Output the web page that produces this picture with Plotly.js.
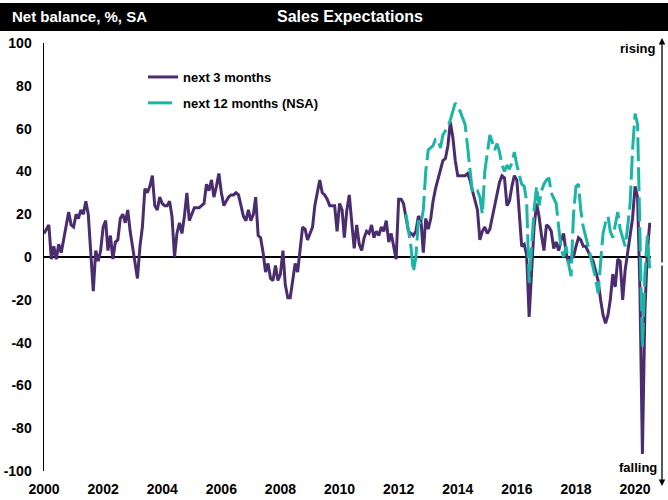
<!DOCTYPE html>
<html>
<head>
<meta charset="utf-8">
<script src="https://cdn.plot.ly/plotly-3.0.1.min.js"></script>
<style>html,body{margin:0;padding:0;background:#fff;}#chart{width:668px;height:500px;}</style>
</head>
<body>
<div id="chart"></div>
<script>
// Monthly data, first point = January 2000
const startYear = 2000;
const next3Months = [
  11, 13, 15, -1, 5, -1, 6, 2, 8, 14, 21, 15,        // 2000
  14, 20, 18, 22, 20, 26, 20, 2, -16, 3, -2, 3,      // 2001
  14, 17, 3, 10, -1, 7, 8, 18, 20, 16, 22, 12,       // 2002
  5, -2, -10, 5, 14, 32, 30, 33, 38, 24, 22, 28,     // 2003
  25, 24, 24, 26, 19, 0, 11, 16, 11, 19, 30, 17,     // 2004
  20, 23, 23, 23, 24, 25, 34, 31, 36, 28, 33, 39,    // 2005
  30, 24, 26, 28, 29, 29, 30, 29, 24, 19, 17, 22,    // 2006
  17, 20, 28, 10, 9, 2, -7, -3, -10, -11, -4, -11,   // 2007
  -8, 3, -13, -19, -19, -11, -3, -7, 4, 14, 13, 8,   // 2008
  11, 14, 24, 30, 36, 30, 29, 27, 24, 24, 24, 12,    // 2009
  25, 22, 9, 22, 29, 16, 4, 15, 6, 3, 9, 12,         // 2010
  11, 15, 9, 12, 10, 14, 12, 17, 7, 11, 5, -1,       // 2011
  27, 27, 25, 18, 12, 11, 10, 12, 19, 18, 2, 18,     // 2012
  13, 18, 26, 32, 36, 40, 45, 46, 52, 63, 56, 45,    // 2013
  38, 38, 38, 38, 39, 36, 31, 26, 22, 8, 12, 14,     // 2014
  11, 13, 18, 23, 28, 35, 38, 37, 24, 26, 33, 38,    // 2015
  36, 22, 5, 6, 1, -28, -5, 14, 25, 19, 10, 3,       // 2016
  15, 14, 12, 4, 7, 3, 8, 11, 2, -3, 0, 0,           // 2017
  5, 9, 8, 5, 5, 2, 0, -2, -6, -11, -20, -27,        // 2018
  -31, -27, -20, -8, -14, -1, -2, -20, -6, 2, 8, 18, // 2019
  33, 28, -15, -92, -26, 3, 16                       // 2020
];
// 12-month series starts April 2012 (month index 147)
const next12StartIndex = 147;
const next12Months = [
  20, 12, 5, -7, 0, 17, 15, 22, 40,                  // 2012 Apr-Dec
  50, 51, 52, 55, 55, 51, 57, 59, 61, 64, 68, 72,    // 2013
  70, 68, 65, 62, 52, 40, 30, 31, 31, 28, 20, 40,    // 2014
  50, 57, 54, 50, 53, 49, 43, 40, 43, 41, 44, 49,    // 2015
  43, 38, 34, 33, 26, -12, 5, 22, 33, 24, 31, 34,    // 2016
  36, 37, 30, 27, 25, 14, 4, 0, 5, -3, -9, 20,       // 2017
  33, 34, 22, 14, 10, 5, 0, -5, -10, -17, -3, 11,    // 2018
  16, 19, 12, 9, 15, 21, 13, 9, 5, 14, 25, 50,       // 2019
  67, 62, 5, -42, -8, 10, -6                         // 2020
];
const tickYears = [2000, 2002, 2004, 2006, 2008, 2010, 2012, 2014, 2016, 2018, 2020];
const yTicks = [-100, -80, -60, -40, -20, 0, 20, 40, 60, 80, 100];

function monthDate(i) {
  const y = startYear + Math.floor(i / 12);
  const m = (i % 12) + 1;
  return y + '-' + (m < 10 ? '0' + m : m) + '-01';
}
const x3 = next3Months.map((_, i) => monthDate(i));
const x12 = next12Months.map((_, i) => monthDate(next12StartIndex + i));

const FONT = 'Liberation Sans Narrow, Arial Narrow, Liberation Sans, Arial, sans-serif';

const traces = [
  {
    x: x3, y: next3Months, type: 'scatter', mode: 'lines', name: 'next 3 months',
    legendgroup: 'a',
    line: {color: '#4b2d6f', width: 3}
  },
  {
    x: x12, y: next12Months, type: 'scatter', mode: 'lines', name: 'next 12 months (NSA)',
    legendgroup: 'b',
    line: {color: '#1bb5a8', width: 3, dash: '24px,6px'}
  }
];

// plot area in pixels: left 44, right 651, top 43, bottom 471
const L = 44, R = 651, T = 43, B = 471;
const px = v => (v - L) / (R - L);
const py = v => (B - v) / (B - T);

const layout = {
  width: 668, height: 500,
  margin: {l: L, r: 668 - R, t: T, b: 500 - B, pad: 0},
  paper_bgcolor: '#ffffff', plot_bgcolor: '#ffffff',
  font: {family: FONT, size: 14, color: '#000'},
  showlegend: true,
  legend: {
    x: px(143), y: py(62), xanchor: 'left', yanchor: 'top',
    bgcolor: 'rgba(0,0,0,0)', tracegroupgap: 6, traceorder: 'grouped',
    font: {family: FONT, size: 13, color: '#000', weight: 'bold'}
  },
  xaxis: {
    type: 'date', range: ['2000-01-01', '2020-07-16'],
    tickvals: tickYears.map(y => y + '-01-01'), ticktext: tickYears.map(String),
    showgrid: false, zeroline: false, showline: false, ticks: '',
    ticklabelstandoff: 8,
    tickfont: {family: FONT, size: 14, color: '#000', weight: 'bold'},
    fixedrange: true
  },
  yaxis: {
    range: [-100, 100], tickvals: yTicks, ticktext: yTicks.map(String),
    showgrid: false, zeroline: true, zerolinecolor: '#000', zerolinewidth: 1.5,
    showline: true, linecolor: '#000', linewidth: 1.5, ticks: '',
    ticklabelstandoff: 8,
    tickfont: {family: FONT, size: 14, color: '#000', weight: 'bold'},
    fixedrange: true
  },
  shapes: [
    {type: 'rect', xref: 'paper', yref: 'paper', x0: px(0), x1: px(668), y0: py(31), y1: py(3),
     fillcolor: '#000', line: {width: 0}, layer: 'above'}
  ],
  annotations: [
    {xref: 'paper', yref: 'paper', x: px(10), y: py(17), xanchor: 'left', yanchor: 'middle',
     text: 'Net balance, %, SA', showarrow: false,
     font: {family: FONT, size: 15, color: '#fff', weight: 'bold'}},
    {xref: 'paper', yref: 'paper', x: px(350), y: py(17), xanchor: 'center', yanchor: 'middle',
     text: 'Sales Expectations', showarrow: false,
     font: {family: FONT, size: 16, color: '#fff', weight: 'bold'}},
    {xref: 'paper', yref: 'paper', x: px(657), y: py(48), xanchor: 'right', yanchor: 'middle',
     text: 'rising', showarrow: false,
     font: {family: FONT, size: 13, color: '#000', weight: 'bold'}},
    {xref: 'paper', yref: 'paper', x: px(659), y: py(467), xanchor: 'right', yanchor: 'middle',
     text: 'falling', showarrow: false,
     font: {family: FONT, size: 13, color: '#000', weight: 'bold'}},
    {xref: 'paper', yref: 'paper', x: px(662), y: py(38), text: '', showarrow: true,
     axref: 'pixel', ayref: 'pixel', ax: 0, ay: 226, arrowhead: 2, arrowsize: 1, arrowwidth: 1.3,
     arrowcolor: '#000', standoff: 0, startstandoff: 0},
    {xref: 'paper', yref: 'paper', x: px(662), y: py(486), text: '', showarrow: true,
     axref: 'pixel', ayref: 'pixel', ax: 0, ay: -222, arrowhead: 2, arrowsize: 1, arrowwidth: 1.3,
     arrowcolor: '#000', standoff: 0, startstandoff: 0}
  ]
};

Plotly.newPlot('chart', traces, layout, {displayModeBar: false, staticPlot: true});
</script>
</body>
</html>
